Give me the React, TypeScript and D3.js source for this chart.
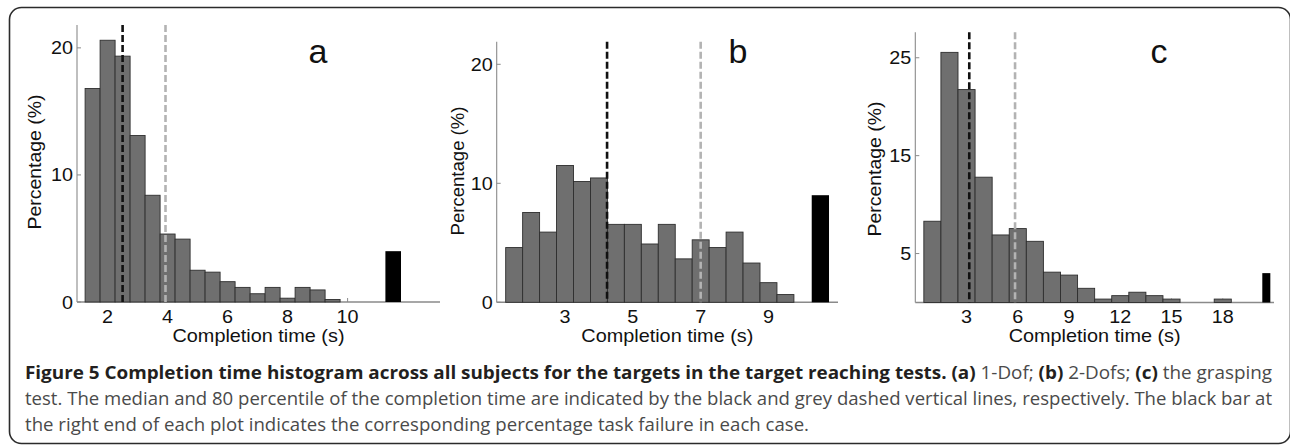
import React from "react";
import * as d3 from "d3";

// ---------- data ----------
const panelNames = ["a", "b", "c"];

const binsA = [1.0, 1.5, 2.0, 2.5, 3.0, 3.5, 4.0, 4.5, 5.0, 5.5, 6.0, 6.5, 7.0, 7.5, 8.0, 8.5, 9.0, 9.5];
const valuesA = [0, 16.8, 20.6, 19.35, 13.1, 8.4, 5.35, 4.95, 2.5, 2.35, 1.6, 1.15, 0.65, 1.15, 0.3, 1.15, 0.95, 0.2];

const binsB = [1.5, 2.0, 2.5, 3.0, 3.5, 4.0, 4.5, 5.0, 5.5, 6.0, 6.5, 7.0, 7.5, 8.0, 8.5, 9.0, 9.5];
const valuesB = [4.6, 7.55, 5.9, 11.5, 10.15, 10.45, 6.55, 6.55, 4.9, 6.55, 3.65, 5.25, 4.6, 5.9, 3.3, 1.65, 0.65];

const binsC = [1, 2, 3, 4, 5, 6, 7, 8, 9, 10, 11, 12, 13, 14, 15, 18];
const valuesC = [8.3, 25.55, 21.75, 12.8, 6.9, 7.55, 6.25, 3.1, 2.8, 1.45, 0.35, 0.7, 1.05, 0.7, 0.35, 0.35];

const binWidths = [0.5, 0.5, 1.0];

const failureCenters = [11.52, 10.53, 20.55];
const failureValues = [4.0, 9.0, 3.0];
const failureWidths = [0.52, 0.51, 0.47];

const medianTimes = [2.5, 4.24, 3.16];
const p80Times = [3.93, 7.0, 5.84];

const xTicksA = [2, 4, 6, 8, 10];
const xTicksB = [3, 5, 7, 9];
const xTicksC = [3, 6, 9, 12, 15, 18];
const yTicksA = [0, 10, 20];
const yTicksB = [0, 10, 20];
const yTicksC = [5, 15, 25];

const xDomains: [number, number][] = [[0.98, 13.08], [0.985, 11.05], [0, 21.0]];
const yDomains: [number, number][] = [[0, 21.8], [0, 21.9], [0, 27.6]];

const xLabelText = "Completion time (s)";
const yLabelText = "Percentage (%)";

const captionBold = "Figure 5 Completion time histogram across all subjects for the targets in the target reaching tests.";
const captionLine2 = "test. The median and 80 percentile of the completion time are indicated by the black and grey dashed vertical lines, respectively. The black bar at";
const captionLine3 = "the right end of each plot indicates the corresponding percentage task failure in each case.";

// ---------- layout ----------
const layout = [
  { xRange: [77, 440], yRange: [302, 25], yLabelX: 41, yLabelY: 162, yLabelLen: 135, letterX: 318 },
  { xRange: [496.7, 838], yRange: [302.3, 41.7], yLabelX: 464, yLabelY: 171, yLabelLen: 129, letterX: 738 },
  { xRange: [915.3, 1274], yRange: [302.5, 32.3], yLabelX: 881, yLabelY: 169, yLabelLen: 135, letterX: 1159 },
];

const bins = [binsA, binsB, binsC];
const values = [valuesA, valuesB, valuesC];
const xTicks = [xTicksA, xTicksB, xTicksC];
const yTicks = [yTicksA, yTicksB, yTicksC];

const AXIS = "#8a8a8a";
const BAR_FILL = "#6f6f6f";
const BAR_STROKE = "#2e2e2e";
const CHART_FONT = "'Liberation Sans', Arial, sans-serif";
const CAP_FONT = "'Open Sans', 'Noto Sans', sans-serif";
const STRETCH = 1.07;
const TICK_SIZE = 18.5;

function Panel({ i }: { i: number }) {
  const L = layout[i];
  const x = d3.scaleLinear().domain(xDomains[i]).range(L.xRange);
  const y = d3.scaleLinear().domain(yDomains[i]).range(L.yRange);
  const [x0, x1] = L.xRange;
  const y0 = y(0);
  const yTop = L.yRange[1];
  const w = binWidths[i];
  const xmin = xDomains[i][0];

  const bars = bins[i].map((c, k) => {
    const left = Math.max(xmin, c - w / 2);
    const right = c + w / 2;
    const v = values[i][k];
    return { key: k, x: x(left), width: x(right) - x(left), y: y(v), height: y0 - y(v) };
  });

  const fl = failureCenters[i] - failureWidths[i] / 2;
  const fr = failureCenters[i] + failureWidths[i] / 2;

  return (
    <g>
      {/* axes */}
      <line x1={x0} x2={x0} y1={y0} y2={yTop} stroke={AXIS} strokeWidth={1.1} />
      <line x1={x0} x2={x1} y1={y0} y2={y0} stroke={AXIS} strokeWidth={1.4} />
      {yTicks[i].map((t) => (
        <line key={"yt" + t} x1={x0} x2={x0 + 4} y1={y(t)} y2={y(t)} stroke={AXIS} strokeWidth={1} />
      ))}
      {xTicks[i].map((t) => (
        <line key={"xt" + t} x1={x(t)} x2={x(t)} y1={y0} y2={y0 - 4} stroke={AXIS} strokeWidth={1} />
      ))}
      {/* bars */}
      {bars.map((b) => (
        <rect key={b.key} x={b.x} y={b.y} width={b.width} height={Math.max(0, b.height)}
          fill={BAR_FILL} stroke={BAR_STROKE} strokeWidth={0.9} />
      ))}
      <rect x={x(fl)} y={y(failureValues[i])} width={x(fr) - x(fl)} height={y0 - y(failureValues[i])} fill="#000" />
      {/* median and 80th percentile */}
      <line x1={x(medianTimes[i])} x2={x(medianTimes[i])} y1={yTop} y2={y0} stroke="#111" strokeWidth={2.6} strokeDasharray="7,3" />
      <line x1={x(p80Times[i])} x2={x(p80Times[i])} y1={yTop} y2={y0} stroke="#b3b3b3" strokeWidth={2.6} strokeDasharray="7,3" />
      {/* tick labels */}
      {xTicks[i].map((t) => (
        <text key={"xl" + t} transform={`translate(${x(t)},323) scale(${STRETCH},1)`} textAnchor="middle"
          fontFamily={CHART_FONT} fontSize={TICK_SIZE} fill="#111">{t}</text>
      ))}
      {yTicks[i].map((t) => (
        <text key={"yl" + t} transform={`translate(${x0 - 4},${y(t) + 6.5}) scale(${STRETCH},1)`} textAnchor="end"
          fontFamily={CHART_FONT} fontSize={TICK_SIZE} fill="#111">{t}</text>
      ))}
      {/* axis labels */}
      <text x={(x0 + x1) / 2} y={341.5} textAnchor="middle" fontFamily={CHART_FONT} fontSize={18.5} fill="#111"
        textLength={172} lengthAdjust="spacingAndGlyphs">{xLabelText}</text>
      <text transform={`translate(${L.yLabelX},${L.yLabelY}) rotate(-90)`} textAnchor="middle" fontFamily={CHART_FONT}
        fontSize={18.5} fill="#111" textLength={L.yLabelLen} lengthAdjust="spacingAndGlyphs">{yLabelText}</text>
      {/* panel letter */}
      <text x={L.letterX} y={63} textAnchor="middle" fontFamily={CHART_FONT} fontSize={34} fill="#111">{panelNames[i]}</text>
    </g>
  );
}

export default function App() {
  return (
    <svg width={1290} height={445} style={{ position: "absolute", left: 0, top: 0, display: "block", background: "#fff" }}>
      <rect x={0} y={0} width={1290} height={445} fill="#fff" />
      <rect x={9.5} y={7.5} width={1281} height={436} rx={12} ry={12} fill="none" stroke="#2b2b2b" strokeWidth={1.6} />
      {panelNames.map((_, i) => <Panel key={i} i={i} />)}
      <text x={25} y={379} fontFamily={CAP_FONT} fontSize={17.5} textLength={1247} lengthAdjust="spacingAndGlyphs">
        <tspan fontWeight={700} fill="#231f20">{captionBold}</tspan>
        <tspan fill="#4a4a4a"> </tspan>
        <tspan fontWeight={700} fill="#231f20">(a)</tspan>
        <tspan fill="#4a4a4a"> 1-Dof; </tspan>
        <tspan fontWeight={700} fill="#231f20">(b)</tspan>
        <tspan fill="#4a4a4a"> 2-Dofs; </tspan>
        <tspan fontWeight={700} fill="#231f20">(c)</tspan>
        <tspan fill="#4a4a4a"> the grasping</tspan>
      </text>
      <text x={25} y={404.5} fontFamily={CAP_FONT} fontSize={17.5} fill="#4a4a4a" textLength={1247} lengthAdjust="spacingAndGlyphs">
        {captionLine2}
      </text>
      <text x={25} y={430.5} fontFamily={CAP_FONT} fontSize={17.5} fill="#4a4a4a" textLength={784} lengthAdjust="spacingAndGlyphs">
        {captionLine3}
      </text>
    </svg>
  );
}
